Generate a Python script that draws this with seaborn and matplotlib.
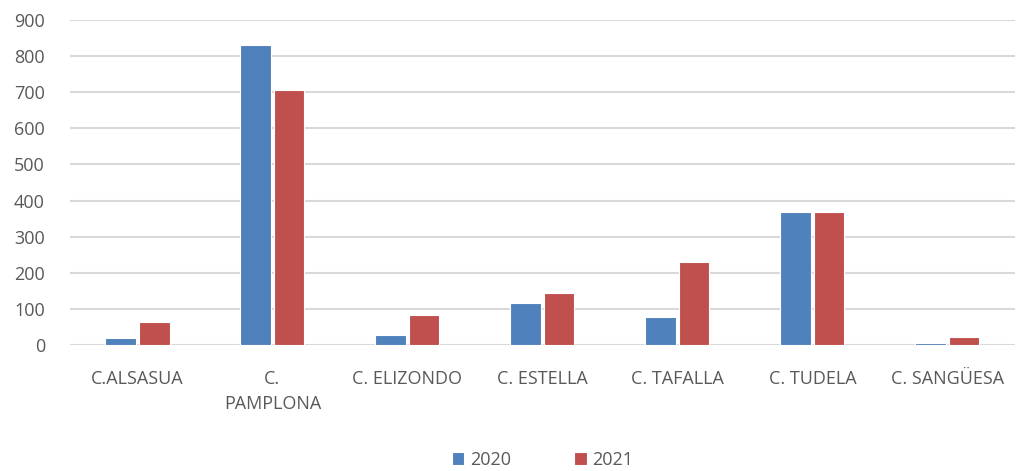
import pandas as pd
import matplotlib
matplotlib.use("Agg")
import matplotlib.pyplot as plt
import seaborn as sns

# Datos
centros = ['C.ALSASUA', 'C.\nPAMPLONA', 'C. ELIZONDO', 'C. ESTELLA', 'C. TAFALLA', 'C. TUDELA', 'C. SANGÜESA']
valores_2020 = [20, 830, 28, 117, 78, 367, 5]
valores_2021 = [65, 707, 83, 144, 229, 367, 22]
anios = ['2020', '2021']
colores = ['#4F81BD', '#C0504D']

data = pd.DataFrame({
    'Centro': centros * 2,
    'Valor': valores_2020 + valores_2021,
    'Año': [anios[0]] * len(centros) + [anios[1]] * len(centros),
})

sns.set_style('white')
plt.rcParams['font.family'] = ['Liberation Sans Narrow', 'Open Sans', 'DejaVu Sans']

fig = plt.figure(figsize=(10.23, 4.71), dpi=100)
ax = fig.add_axes([0.0684, 0.2675, 0.9236, 0.69])

sns.barplot(data=data, x='Centro', y='Valor', hue='Año', palette=colores,
            width=0.5, gap=0.1, ax=ax, edgecolor='white', linewidth=0.8,
            saturation=1)

ax.set_ylim(0, 900)
ax.set_yticks(range(0, 901, 100))
ax.set_xlim(-0.5, len(centros) - 0.5)
ax.yaxis.grid(True, color='#d9d9d9', linewidth=1.5)
ax.set_axisbelow(True)
for s in ax.spines.values():
    s.set_visible(False)
ax.set_xlabel('')
ax.set_ylabel('')
ax.tick_params(axis='both', length=0, labelsize=13, labelcolor='#595959')
ax.tick_params(axis='y', pad=18)
ax.tick_params(axis='x', pad=18)
for lbl in ax.get_xticklabels():
    lbl.set_linespacing(1.5)

ax.legend(loc='lower center', bbox_to_anchor=(0.5, -0.43), ncol=2, frameon=False,
          fontsize=13, labelcolor='#595959', handlelength=0.7, handleheight=0.7,
          handletextpad=0.3, columnspacing=3.5)

fig.savefig('out.png', dpi=100)
